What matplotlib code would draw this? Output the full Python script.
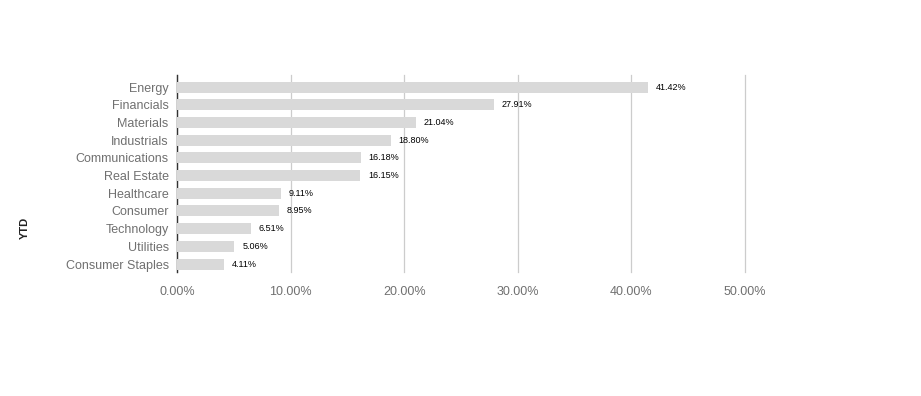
import matplotlib
matplotlib.use('agg')
import matplotlib.pyplot as plt
from matplotlib.ticker import FuncFormatter

plt.rcParams['font.family'] = ['Liberation Sans', 'DejaVu Sans']

sectors = ['Energy', 'Financials', 'Materials', 'Industrials', 'Communications',
           'Real Estate', 'Healthcare', 'Consumer', 'Technology', 'Utilities',
           'Consumer Staples']
ytd = [41.42, 27.91, 21.04, 18.80, 16.18, 16.15, 9.11, 8.95, 6.51, 5.06, 4.11]
x_ticks = [0, 10, 20, 30, 40, 50]

fig = plt.figure(figsize=(9.21, 3.96), dpi=100)
ax = fig.add_axes([0.1922, 0.3131, 0.6167, 0.4975])

y = list(range(len(sectors)))
ax.barh(y, ytd, height=0.62, color='#d9d9d9', zorder=3)

# value labels to the right of each bar
for yi, v in zip(y, ytd):
    ax.text(v + 0.7, yi, f'{v:.2f}%', va='center', ha='left',
            fontsize=6.5, color='black', zorder=4)

ax.set_xlim(0, 50)
ax.set_ylim(10.45, -0.68)
ax.set_xticks(x_ticks)
ax.xaxis.set_major_formatter(FuncFormatter(lambda v, p: f'{v:.2f}%'))
ax.set_yticks(y)
ax.set_yticklabels(sectors)
ax.tick_params(axis='both', length=0, colors='#707070', labelsize=9)
ax.tick_params(axis='x', pad=10)
ax.tick_params(axis='y', pad=6)
ax.xaxis.grid(True, color='#cccccc', linewidth=0.9, zorder=0)
ax.set_axisbelow(True)
for gl in ax.get_xgridlines():
    gl.set_clip_on(False)

for side in ['top', 'right', 'bottom']:
    ax.spines[side].set_visible(False)
ax.spines['left'].set_color('#333333')
ax.spines['left'].set_linewidth(1.0)
ax.spines['left'].set_zorder(1)

fig.text(25 / 921, 1 - 228 / 396, 'YTD', rotation=90, ha='center', va='center',
         fontsize=8, fontweight='bold', color='#222222')

plt.savefig('out.png', dpi=100)
